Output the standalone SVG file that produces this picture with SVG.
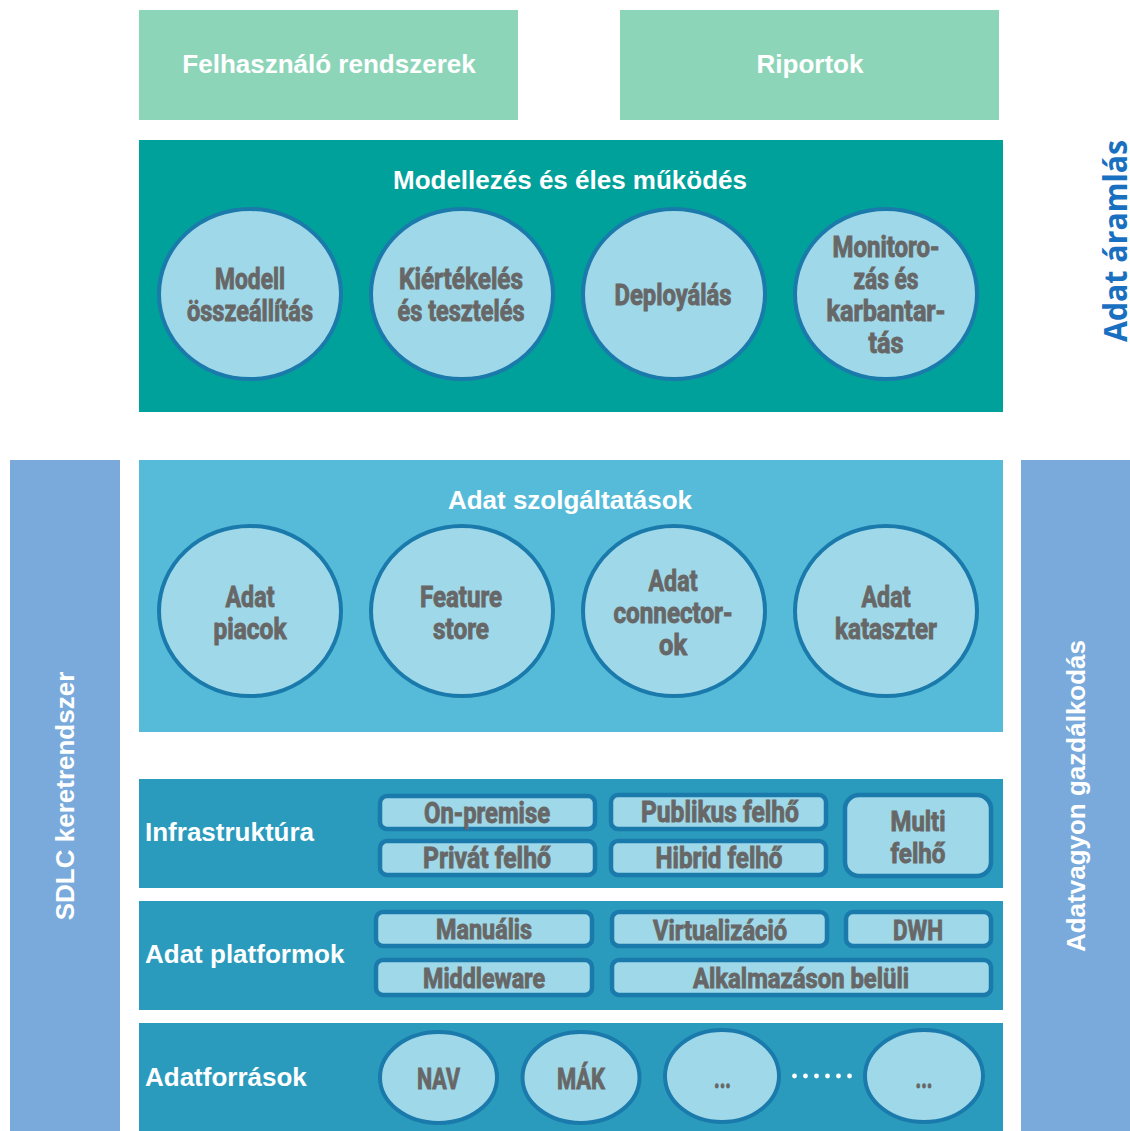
<svg xmlns="http://www.w3.org/2000/svg" width="1130" height="1131" viewBox="0 0 1130 1131">
<style>
.t{font-family:"Liberation Sans",Arial,sans-serif;font-weight:bold;fill:#ffffff}
.c{font-family:Roboto,"DejaVu Sans",sans-serif;font-weight:bold;fill:#676767;stroke:#676767;stroke-width:0.9;text-anchor:middle}
.ci{fill:#9fd8e8;stroke:#1a7aab;stroke-width:4}
.pl{fill:#9fd8e8;stroke:#1a7aab;stroke-width:4.5}
</style>
<rect width="1130" height="1131" fill="#ffffff"/>

<g id="felhasznalo">
<rect x="139" y="10" width="379" height="110" fill="#8dd5b9"/>
<text class="t" x="329" y="73" font-size="26" text-anchor="middle">Felhasználó rendszerek</text>
</g>
<g id="riportok">
<rect x="620" y="10" width="379" height="110" fill="#8dd5b9"/>
<text class="t" x="810" y="73" font-size="26" text-anchor="middle">Riportok</text>
</g>

<g id="modellezes">
<rect x="139" y="140" width="864" height="272" fill="#00a19a"/>
<text class="t" x="570" y="189" font-size="26" text-anchor="middle">Modellezés és éles működés</text>
</g>
<g id="modell-osszeallitas">
<ellipse class="ci" cx="250" cy="294" rx="91" ry="85"/>
<text class="c" x="250" y="289" font-size="29" textLength="70" lengthAdjust="spacingAndGlyphs">Modell</text>
<text class="c" x="250" y="321" font-size="29" textLength="126" lengthAdjust="spacingAndGlyphs">összeállítás</text>
</g>
<g id="kiertekeles">
<ellipse class="ci" cx="462" cy="294" rx="91" ry="85"/>
<text class="c" x="461" y="289" font-size="29" textLength="124" lengthAdjust="spacingAndGlyphs">Kiértékelés</text>
<text class="c" x="461" y="321" font-size="29" textLength="127" lengthAdjust="spacingAndGlyphs">és tesztelés</text>
</g>
<g id="deployalas">
<ellipse class="ci" cx="674" cy="294" rx="91" ry="85"/>
<text class="c" x="673" y="305" font-size="29" textLength="117" lengthAdjust="spacingAndGlyphs">Deployálás</text>
</g>
<g id="monitorozas">
<ellipse class="ci" cx="886" cy="294" rx="91" ry="85"/>
<text class="c" x="886" y="257" font-size="29" textLength="107" lengthAdjust="spacingAndGlyphs">Monitoro-</text>
<text class="c" x="886" y="289" font-size="29" textLength="65" lengthAdjust="spacingAndGlyphs">zás és</text>
<text class="c" x="886" y="321" font-size="29" textLength="119" lengthAdjust="spacingAndGlyphs">karbantar-</text>
<text class="c" x="886" y="353" font-size="29" textLength="35" lengthAdjust="spacingAndGlyphs">tás</text>
</g>

<g id="adat-aramlas">
<text x="1127" y="241" transform="rotate(-90 1127 241)" font-family="Open Sans,Liberation Sans,sans-serif" font-weight="bold" font-size="33" fill="#1a70c0" text-anchor="middle" textLength="202" lengthAdjust="spacingAndGlyphs">Adat áramlás</text>
</g>

<g id="adat-szolgaltatasok">
<rect x="139" y="460" width="864" height="272" fill="#56bbd9"/>
<text class="t" x="570" y="509" font-size="26" text-anchor="middle">Adat szolgáltatások</text>
</g>
<g id="adat-piacok">
<ellipse class="ci" cx="250" cy="611" rx="91" ry="85"/>
<text class="c" x="250" y="607" font-size="29" textLength="49" lengthAdjust="spacingAndGlyphs">Adat</text>
<text class="c" x="250" y="639" font-size="29" textLength="73" lengthAdjust="spacingAndGlyphs">piacok</text>
</g>
<g id="feature-store">
<ellipse class="ci" cx="462" cy="611" rx="91" ry="85"/>
<text class="c" x="461" y="607" font-size="29" textLength="82" lengthAdjust="spacingAndGlyphs">Feature</text>
<text class="c" x="461" y="639" font-size="29" textLength="56" lengthAdjust="spacingAndGlyphs">store</text>
</g>
<g id="adat-connector">
<ellipse class="ci" cx="674" cy="611" rx="91" ry="85"/>
<text class="c" x="673" y="591" font-size="29" textLength="49" lengthAdjust="spacingAndGlyphs">Adat</text>
<text class="c" x="673" y="623" font-size="29" textLength="119" lengthAdjust="spacingAndGlyphs">connector-</text>
<text class="c" x="673" y="655" font-size="29" textLength="28" lengthAdjust="spacingAndGlyphs">ok</text>
</g>
<g id="adat-kataszter">
<ellipse class="ci" cx="886" cy="611" rx="91" ry="85"/>
<text class="c" x="886" y="607" font-size="29" textLength="49" lengthAdjust="spacingAndGlyphs">Adat</text>
<text class="c" x="886" y="639" font-size="29" textLength="102" lengthAdjust="spacingAndGlyphs">kataszter</text>
</g>

<g id="sdlc">
<rect x="10" y="460" width="110" height="671" fill="#79aadb"/>
<text class="t" x="74" y="796" transform="rotate(-90 74 796)" font-size="26" text-anchor="middle">SDLC keretrendszer</text>
</g>
<g id="adatvagyon">
<rect x="1021" y="460" width="110" height="671" fill="#79aadb"/>
<text class="t" x="1085" y="796" transform="rotate(-90 1085 796)" font-size="26" text-anchor="middle">Adatvagyon gazdálkodás</text>
</g>

<g id="infrastruktura">
<rect x="139" y="779" width="864" height="109" fill="#2b9bbd"/>
<text class="t" x="145" y="841" font-size="26">Infrastruktúra</text>
</g>
<g id="on-premise">
<rect class="pl" x="380" y="796" width="215" height="33" rx="7"/>
<text class="c" x="487" y="823" font-size="29" textLength="126" lengthAdjust="spacingAndGlyphs">On-premise</text>
</g>
<g id="privat-felho">
<rect class="pl" x="380" y="841" width="215" height="34" rx="7"/>
<text class="c" x="487" y="868" font-size="29" textLength="128" lengthAdjust="spacingAndGlyphs">Privát felhő</text>
</g>
<g id="publikus-felho">
<rect class="pl" x="611" y="795" width="215" height="34" rx="7"/>
<text class="c" x="720" y="822" font-size="29" textLength="158" lengthAdjust="spacingAndGlyphs">Publikus felhő</text>
</g>
<g id="hibrid-felho">
<rect class="pl" x="611" y="841" width="215" height="34" rx="7"/>
<text class="c" x="719" y="868" font-size="29" textLength="127" lengthAdjust="spacingAndGlyphs">Hibrid felhő</text>
</g>
<g id="multi-felho">
<rect class="pl" x="845" y="795" width="146" height="81" rx="14"/>
<text class="c" x="918" y="831" font-size="28" textLength="55" lengthAdjust="spacingAndGlyphs">Multi</text>
<text class="c" x="918" y="863" font-size="28" textLength="55" lengthAdjust="spacingAndGlyphs">felhő</text>
</g>

<g id="adat-platformok">
<rect x="139" y="901" width="864" height="109" fill="#2b9bbd"/>
<text class="t" x="145" y="963" font-size="26">Adat platformok</text>
</g>
<g id="manualis">
<rect class="pl" x="376" y="912" width="216" height="34" rx="7"/>
<text class="c" x="484" y="939" font-size="28" textLength="96" lengthAdjust="spacingAndGlyphs">Manuális</text>
</g>
<g id="middleware">
<rect class="pl" x="376" y="960" width="216" height="35" rx="7"/>
<text class="c" x="484" y="988" font-size="28" textLength="122" lengthAdjust="spacingAndGlyphs">Middleware</text>
</g>
<g id="virtualizacio">
<rect class="pl" x="612" y="912" width="215" height="34" rx="7"/>
<text class="c" x="720" y="940" font-size="28" textLength="134" lengthAdjust="spacingAndGlyphs">Virtualizáció</text>
</g>
<g id="dwh">
<rect class="pl" x="846" y="912" width="145" height="34" rx="7"/>
<text class="c" x="918" y="940" font-size="28" textLength="50" lengthAdjust="spacingAndGlyphs">DWH</text>
</g>
<g id="alkalmazason-beluli">
<rect class="pl" x="612" y="960" width="379" height="35" rx="7"/>
<text class="c" x="801" y="988" font-size="28" textLength="216" lengthAdjust="spacingAndGlyphs">Alkalmazáson belüli</text>
</g>

<g id="adatforrasok">
<rect x="139" y="1023" width="864" height="108" fill="#2b9bbd"/>
<text class="t" x="145" y="1086" font-size="26">Adatforrások</text>
</g>
<g id="nav">
<ellipse class="ci" cx="438.5" cy="1077.5" rx="58.5" ry="45.5"/>
<text class="c" x="438.5" y="1089" font-size="29" textLength="43" lengthAdjust="spacingAndGlyphs">NAV</text>
</g>
<g id="mak">
<ellipse class="ci" cx="581" cy="1077.5" rx="58.5" ry="45.5"/>
<text class="c" x="581" y="1089" font-size="29" textLength="48" lengthAdjust="spacingAndGlyphs">MÁK</text>
</g>
<g id="forras-3">
<ellipse class="ci" cx="722" cy="1076" rx="57" ry="46"/>
<text class="c" x="722.5" y="1088" font-size="29" textLength="17" lengthAdjust="spacingAndGlyphs">...</text>
</g>
<g id="forras-n">
<ellipse class="ci" cx="924" cy="1076" rx="59" ry="46"/>
<text class="c" x="924" y="1088" font-size="29" textLength="17" lengthAdjust="spacingAndGlyphs">...</text>
</g>
<g id="dots" fill="#ffffff">
<circle cx="794.5" cy="1076" r="2.4"/>
<circle cx="805.5" cy="1076" r="2.4"/>
<circle cx="816.5" cy="1076" r="2.4"/>
<circle cx="827.5" cy="1076" r="2.4"/>
<circle cx="838.5" cy="1076" r="2.4"/>
<circle cx="849.5" cy="1076" r="2.4"/>
</g>
</svg>
